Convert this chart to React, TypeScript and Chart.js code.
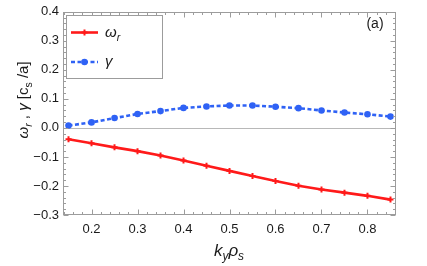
import React, { useEffect, useRef } from "react";
import { Chart, registerables } from "chart.js";

Chart.register(...registerables);

const kyRhoS = [0.15, 0.2, 0.25, 0.3, 0.35, 0.4, 0.45, 0.5, 0.55, 0.6, 0.65, 0.7, 0.75, 0.8, 0.85];
const omegaR = [-0.039, -0.053, -0.067, -0.08, -0.095, -0.112, -0.13, -0.148, -0.166, -0.183, -0.199, -0.212, -0.223, -0.234, -0.247];
const gammaVals = [0.008, 0.019, 0.034, 0.048, 0.058, 0.069, 0.074, 0.077, 0.077, 0.073, 0.068, 0.06, 0.053, 0.047, 0.039];
const xTickValues = [0.2, 0.3, 0.4, 0.5, 0.6, 0.7, 0.8];
const yTickValues = [-0.3, -0.2, -0.1, 0.0, 0.1, 0.2, 0.3, 0.4];

const RED = "#ff1a1a";
const BLUE = "#2f62f5";
const FRAME = "#9c9c9c";
const FONT = "'Liberation Sans', Arial, sans-serif";

type Part = { t: string; it?: boolean; sub?: boolean };

function drawRich(ctx: CanvasRenderingContext2D, parts: Part[], cx: number, baseY: number, size: number) {
  const fontOf = (p: Part) => `${p.it ? "italic " : ""}${p.sub ? size * 0.7 : size}px ${FONT}`;
  let total = 0;
  const widths = parts.map((p) => {
    ctx.font = fontOf(p);
    const w = ctx.measureText(p.t).width;
    total += w;
    return w;
  });
  let x = cx - total / 2;
  ctx.textAlign = "left";
  ctx.textBaseline = "alphabetic";
  parts.forEach((p, i) => {
    ctx.font = fontOf(p);
    ctx.fillText(p.t, x, baseY + (p.sub ? size * 0.25 : 0));
    x += widths[i];
  });
}

function drawRichLeft(ctx: CanvasRenderingContext2D, parts: Part[], x0: number, baseY: number, size: number) {
  let x = x0;
  ctx.textAlign = "left";
  ctx.textBaseline = "alphabetic";
  parts.forEach((p) => {
    ctx.font = `${p.it ? "italic " : ""}${p.sub ? size * 0.7 : size}px ${FONT}`;
    ctx.fillText(p.t, x, baseY + (p.sub ? size * 0.25 : 0));
    x += ctx.measureText(p.t).width;
  });
}

const framePlugin = {
  id: "frame",
  beforeDatasetsDraw(chart: any) {
    const { ctx, chartArea, scales } = chart;
    const y0 = Math.round(scales.y.getPixelForValue(0)) + 0.5;
    ctx.save();
    ctx.strokeStyle = "#b8b8b8";
    ctx.lineWidth = 1.2;
    ctx.beginPath();
    ctx.moveTo(chartArea.left, y0);
    ctx.lineTo(chartArea.right, y0);
    ctx.stroke();
    ctx.restore();
  },
  afterDraw(chart: any) {
    const { ctx, chartArea, scales } = chart;
    const { left, right, top, bottom } = chartArea;
    const xs = scales.x;
    const ys = scales.y;
    ctx.save();
    ctx.strokeStyle = FRAME;
    ctx.lineWidth = 1;
    const L = Math.round(left) + 0.5;
    const R = Math.round(right) - 0.5;
    const T = Math.round(top) + 0.5;
    const B = Math.round(bottom) - 0.5;
    ctx.strokeRect(L, T, R - L, B - T);
    ctx.beginPath();
    for (let i = 0; i <= 40; i++) {
      const v = Math.round((0.1 + i * 0.02) * 1000) / 1000;
      if (v < xs.min || v > xs.max) continue;
      const major = Math.abs(v * 10 - Math.round(v * 10)) < 1e-6;
      const len = major ? 5 : 2.5;
      const px = Math.round(xs.getPixelForValue(v)) + 0.5;
      ctx.moveTo(px, B);
      ctx.lineTo(px, B - len);
      ctx.moveTo(px, T);
      ctx.lineTo(px, T + len);
    }
    for (let i = 0; i <= 40; i++) {
      const v = Math.round((-0.32 + i * 0.02) * 1000) / 1000;
      if (v < ys.min - 1e-9 || v > ys.max + 1e-9) continue;
      const major = Math.abs(v * 10 - Math.round(v * 10)) < 1e-6;
      const len = major ? 5 : 2.5;
      const py = Math.round(ys.getPixelForValue(v)) + 0.5;
      ctx.moveTo(L, py);
      ctx.lineTo(L + len, py);
      ctx.moveTo(R, py);
      ctx.lineTo(R - len, py);
    }
    ctx.stroke();

    // legend
    ctx.fillStyle = "#ffffff";
    ctx.fillRect(66.5, 15.5, 96, 63);
    ctx.strokeStyle = FRAME;
    ctx.strokeRect(66.5, 15.5, 96, 63);
    ctx.strokeStyle = RED;
    ctx.lineWidth = 2.6;
    ctx.beginPath();
    ctx.moveTo(71, 32.5);
    ctx.lineTo(98, 32.5);
    ctx.stroke();
    ctx.lineWidth = 2;
    ctx.beginPath();
    ctx.moveTo(84.5, 29.5);
    ctx.lineTo(84.5, 35.5);
    ctx.moveTo(81.5, 32.5);
    ctx.lineTo(87.5, 32.5);
    ctx.stroke();
    ctx.strokeStyle = BLUE;
    ctx.lineWidth = 2.6;
    ctx.setLineDash([4, 2.5]);
    ctx.beginPath();
    ctx.moveTo(71, 62);
    ctx.lineTo(98, 62);
    ctx.stroke();
    ctx.setLineDash([]);
    ctx.fillStyle = BLUE;
    ctx.beginPath();
    ctx.arc(84.5, 62, 3.3, 0, Math.PI * 2);
    ctx.fill();

    ctx.fillStyle = "#1a1a1a";
    drawRichLeft(ctx, [{ t: "ω", it: true }, { t: "r", it: true, sub: true }], 105, 37, 15);
    drawRichLeft(ctx, [{ t: "γ", it: true }], 105, 66, 15);

    ctx.font = `14px ${FONT}`;
    ctx.textAlign = "center";
    ctx.textBaseline = "alphabetic";
    ctx.fillText("(a)", 375, 28);

    drawRich(
      ctx,
      [{ t: "k", it: true }, { t: "y", it: true, sub: true }, { t: "ρ", it: true }, { t: "s", it: true, sub: true }],
      229,
      256,
      17
    );
    ctx.save();
    ctx.translate(28, 100);
    ctx.rotate(-Math.PI / 2);
    drawRich(
      ctx,
      [
        { t: "ω", it: true },
        { t: "r", it: true, sub: true },
        { t: " , " },
        { t: "γ", it: true },
        { t: " [" },
        { t: "c" },
        { t: "s", sub: true },
        { t: " /a]" },
      ],
      0,
      0,
      15
    );
    ctx.restore();
    ctx.restore();
  },
};

function fmt(v: number) {
  if (Math.abs(v) < 1e-9) return "0.0";
  return (v < 0 ? "\u2212" : "") + Math.abs(v).toFixed(1);
}

export default function App() {
  const ref = useRef<HTMLCanvasElement | null>(null);
  useEffect(() => {
    if (!ref.current) return;
    const chart = new Chart(ref.current, {
      type: "line",
      data: {
        datasets: [
          {
            label: "ωr",
            data: kyRhoS.map((x, i) => ({ x, y: omegaR[i] })),
            borderColor: RED,
            backgroundColor: RED,
            borderWidth: 2.6,
            pointStyle: "cross",
            pointRadius: 3,
            pointBorderWidth: 2,
            tension: 0,
          },
          {
            label: "γ",
            data: kyRhoS.map((x, i) => ({ x, y: gammaVals[i] })),
            borderColor: BLUE,
            backgroundColor: BLUE,
            borderWidth: 2.6,
            borderDash: [4, 2.5],
            pointStyle: "circle",
            pointRadius: 3.3,
            pointBorderWidth: 0,
            tension: 0,
          },
        ],
      },
      options: {
        animation: false,
        responsive: false,
        maintainAspectRatio: false,
        layout: { padding: { top: 9, right: 31, left: 0, bottom: 0 } },
        plugins: { legend: { display: false }, tooltip: { enabled: false } },
        scales: {
          x: {
            type: "linear",
            min: 0.138,
            max: 0.862,
            grid: { display: false, drawTicks: false },
            border: { display: false },
            afterBuildTicks: (s: any) => {
              s.ticks = xTickValues.map((value) => ({ value }));
            },
            afterFit: (s: any) => {
              s.height = 51;
            },
            ticks: {
              color: "#1a1a1a",
              font: { family: FONT, size: 13 },
              padding: 7,
              maxRotation: 0,
              autoSkip: false,
              callback: (v: any) => Number(v).toFixed(1),
            },
          },
          y: {
            type: "linear",
            min: -0.3,
            max: 0.4,
            grid: { display: false, drawTicks: false },
            border: { display: false },
            afterBuildTicks: (s: any) => {
              s.ticks = yTickValues.map((value) => ({ value }));
            },
            afterFit: (s: any) => {
              s.width = 63;
            },
            ticks: {
              color: "#1a1a1a",
              font: { family: FONT, size: 13 },
              padding: 4,
              autoSkip: false,
              callback: (v: any) => fmt(Number(v)),
            },
          },
        },
      },
      plugins: [framePlugin],
    });
    return () => chart.destroy();
  }, []);
  return (
    <div style={{ position: "absolute", left: 0, top: 0, width: 427, height: 266, background: "#fff" }}>
      <canvas ref={ref} width={427} height={266} style={{ width: 427, height: 266, display: "block" }} />
    </div>
  );
}
